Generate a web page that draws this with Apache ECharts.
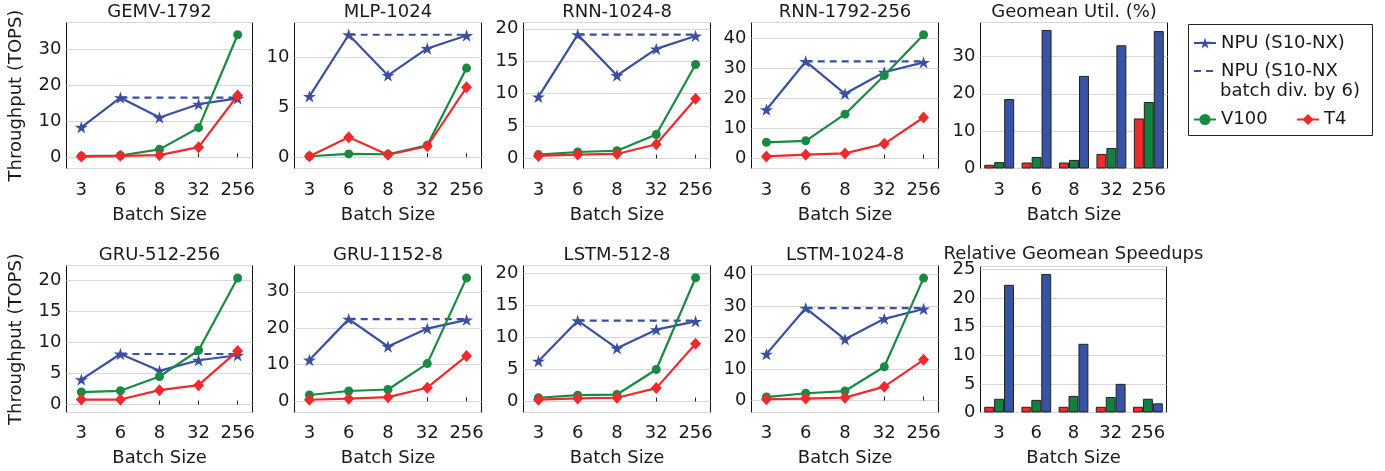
<!DOCTYPE html>
<html>
<head>
<meta charset="utf-8">
<title>Throughput vs batch size</title>
<script src="https://cdn.jsdelivr.net/npm/echarts@6.0.0/dist/echarts.min.js"></script>
<style>
  html, body { margin: 0; padding: 0; background: #fff; }
  #chart { width: 1385px; height: 471px; }
</style>
</head>
<body>
<div id="chart"></div>
<script>
// batch sizes shared by every panel
const batches = ['3', '6', '8', '32', '256']

// line panels (throughput, TOPS), in reading order
const lineTitles = ['GEMV-1792', 'MLP-1024', 'RNN-1024-8', 'RNN-1792-256',
  'GRU-512-256', 'GRU-1152-8', 'LSTM-512-8', 'LSTM-1024-8']

const npuTops = [
  [8.3, 16.5, 11.0, 14.7, 16.3],
  [6.1, 12.27, 8.2, 10.9, 12.2],
  [9.5, 19.1, 12.8, 16.9, 18.9],
  [16.3, 32.4, 21.6, 28.8, 32.1],
  [4.0, 8.1, 5.4, 7.1, 7.9],
  [11.3, 22.5, 15.0, 19.9, 22.3],
  [6.3, 12.6, 8.3, 11.2, 12.5],
  [14.7, 29.3, 19.4, 25.9, 29.0],
]
// NPU with batch divided by 6 (flat from batch 6 onwards)
const npuDiv6 = [16.5, 12.27, 19.1, 32.4, 8.1, 22.5, 12.6, 29.3]
const v100Tops = [
  [0.3, 0.5, 2.2, 8.2, 33.9],
  [0.1, 0.33, 0.3, 1.2, 8.93],
  [0.6, 1.0, 1.2, 3.7, 14.5],
  [5.4, 5.9, 14.8, 27.7, 41.3],
  [2.0, 2.2, 4.5, 8.7, 20.3],
  [1.7, 2.8, 3.2, 10.3, 33.8],
  [0.6, 1.0, 1.1, 5.0, 19.3],
  [1.1, 2.3, 3.0, 10.7, 38.8],
]
const t4Tops = [
  [0.2, 0.4, 0.6, 2.8, 17.1],
  [0.1, 2.0, 0.25, 1.1, 7.0],
  [0.4, 0.6, 0.7, 2.2, 9.2],
  [0.7, 1.3, 1.7, 4.9, 13.7],
  [0.8, 0.8, 2.3, 3.1, 8.6],
  [0.4, 0.7, 1.1, 3.7, 12.4],
  [0.3, 0.5, 0.6, 2.1, 9.0],
  [0.4, 0.6, 0.9, 4.4, 12.9],
]

// bar panels
const utilT4 = [1.0, 1.6, 1.6, 3.9, 13.4]
const utilV100 = [1.7, 3.1, 2.3, 5.5, 17.8]
const utilNpu = [18.6, 37.1, 24.8, 33.0, 36.8]
const speedT4 = [1, 1, 1, 1, 1]
const speedV100 = [2.4, 2.2, 2.9, 2.7, 2.4]
const speedNpu = [22.3, 24.2, 12.0, 5.0, 1.6]

const NPU = 'NPU (S10-NX)'
const DIV6 = 'NPU (S10-NX batch div. by 6)'

// --- layout (pixels) ---
const colLeft = [66.5, 294.5, 523.5, 751.5, 980.5]
const colWidth = [186, 187, 187, 187, 187]
const rowTop = [22.5, 265.5]
const rowHeight = [146, 147]
const titleTop = [3, 246.3]
const labelMargin = [13, 12]
const nameGap = [38, 37]
// y extents [min, max, step] of the line panels
const lineY = [[-3.1, 37.3, 10], [-1.13, 13.5, 5], [-1.54, 20.97, 5], [-3.33, 45.4, 10],
  [-1.28, 22.3, 5], [-3.1, 37.2, 10], [-1.7, 21.2, 5], [-3.8, 42.8, 10]]

const FONT = 'DejaVu Sans'
const INK = '#1a1a1a'
const BLUE = '#3a4fa2'
const GREEN = '#198a43'
const RED = '#ee2a2d'
const STAR = 'path://M0,-10L2.23,-3.07L9.51,-3.09L3.61,1.17L5.88,8.09L0,3.8L-5.88,8.09L-3.61,1.17L-9.51,-3.09L-2.23,-3.07Z'

const txt = { fontSize: 18, fontFamily: FONT, color: INK }

const grid = []
const xAxis = []
const yAxis = []
const series = []
const title = []

function addFrame(row, col, name, rect) {
  const r = Object.assign({
    left: colLeft[col], top: rowTop[row], width: colWidth[col], height: rowHeight[row],
  }, rect || {})
  grid.push({
    left: r.left, top: r.top, width: r.width, height: r.height,
    show: true,
    borderColor: '#111',
    borderWidth: 1,
    backgroundColor: 'transparent',
    containLabel: false,
    outerBoundsMode: 'none',
  })
  title.push({
    text: name,
    left: r.left + r.width / 2,
    top: titleTop[row] - (r.titleShift || 0),
    textAlign: 'center',
    padding: 0,
    textStyle: { ...txt, fontWeight: 'normal' },
  })
  return grid.length - 1
}

function yAxisFor(k, min, max, step, withName) {
  return {
    gridIndex: k,
    type: 'value',
    min, max,
    minInterval: step,
    maxInterval: step,
    axisLine: { show: false },
    axisTick: { show: false },
    splitLine: { lineStyle: { color: '#d6d6d6', width: 1 } },
    // the extent ends are not round numbers, keep only the nice ticks
    axisLabel: { ...txt, margin: 5, showMinLabel: min === 0, showMaxLabel: false },
    name: withName ? 'Throughput (TOPS)' : '',
    nameLocation: 'middle',
    nameGap: 41,
    nameTextStyle: txt,
  }
}

// line panels
lineTitles.forEach((name, i) => {
  const row = i < 4 ? 0 : 1
  const col = i % 4
  const k = addFrame(row, col, name)
  const idx = [0, 1, 2, 3, 4]
  xAxis.push({
    gridIndex: k,
    type: 'value',
    min: -0.38,
    max: 4.38,
    axisLine: { show: false },
    splitLine: { show: false },
    axisTick: { show: true, inside: true, length: 4, customValues: idx, lineStyle: { color: '#222' } },
    axisLabel: { ...txt, margin: labelMargin[row], customValues: idx, formatter: (v) => batches[v] },
    name: 'Batch Size',
    nameLocation: 'middle',
    nameGap: nameGap[row],
    nameTextStyle: txt,
  })
  const [mn, mx, st] = lineY[i]
  yAxis.push(yAxisFor(k, mn, mx, st, col === 0))

  const common = { type: 'line', xAxisIndex: k, yAxisIndex: k, animation: false }
  series.push({
    ...common, name: NPU, z: 3,
    data: npuTops[i].map((v, j) => [j, v]),
    symbol: STAR, symbolSize: 13, symbolKeepAspect: true,
    itemStyle: { color: BLUE }, lineStyle: { color: BLUE, width: 2.2 },
  })
  series.push({
    ...common, name: DIV6, z: 3,
    data: batches.map((b, j) => [j, npuDiv6[i]]).slice(1),
    symbol: 'none',
    itemStyle: { color: BLUE }, lineStyle: { color: BLUE, width: 2.2, type: [7, 5] },
  })
  series.push({
    ...common, name: 'V100', z: 4,
    data: v100Tops[i].map((v, j) => [j, v]),
    symbol: 'circle', symbolSize: 9,
    itemStyle: { color: GREEN }, lineStyle: { color: GREEN, width: 2.2 },
  })
  series.push({
    ...common, name: 'T4', z: 5,
    data: t4Tops[i].map((v, j) => [j, v]),
    symbol: 'diamond', symbolSize: [11, 12],
    itemStyle: { color: RED }, lineStyle: { color: RED, width: 2.2 },
  })
})

// bar panels
function addBars(row, name, rect, yMax, step, t4, v100, npu) {
  const k = addFrame(row, 4, name, rect)
  xAxis.push({
    gridIndex: k,
    type: 'category',
    data: batches,
    axisLine: { show: false },
    axisTick: { show: false },
    splitLine: { show: false },
    axisLabel: { ...txt, interval: 0, margin: labelMargin[row] },
    name: 'Batch Size',
    nameLocation: 'middle',
    nameGap: nameGap[row],
    nameTextStyle: txt,
  })
  yAxis.push(yAxisFor(k, 0, yMax, step, false))
  const bar = (n, data, color) => ({
    type: 'bar', name: n, xAxisIndex: k, yAxisIndex: k, data, animation: false,
    barGap: '0%', barCategoryGap: '20%',
    itemStyle: { color, borderColor: '#222', borderWidth: 1 },
  })
  series.push(bar('T4', t4, RED), bar('V100', v100, '#148040'), bar(NPU, npu, '#3953a4'))
}
addBars(0, 'Geomean Util. (%)', null, 39.1, 10, utilT4, utilV100, utilNpu)
addBars(1, 'Relative Geomean Speedups', { left: 980.5, top: 266.5, width: 186, height: 146, titleShift: 1 },
  25.5, 5, speedT4, speedV100, speedNpu)

// legend: one component per entry so each sits where the original has it
const legendBase = {
  orient: 'horizontal', itemWidth: 22, itemHeight: 14, itemGap: 0, padding: 0,
  selectedMode: false, textStyle: { ...txt, lineHeight: 22 },
}
const legend = [
  { ...legendBase, data: [NPU], left: 1193, top: 32 },
  {
    ...legendBase, left: 1193, top: 60,
    data: [{ name: DIV6, itemStyle: { opacity: 0 } }],
    formatter: () => 'NPU (S10-NX',
  },
  { ...legendBase, data: ['V100'], left: 1193, top: 108.5 },
  { ...legendBase, data: ['T4'], left: 1296, top: 108.5 },
]

const chart = echarts.init(document.getElementById('chart'), null, { renderer: 'canvas' })
chart.setOption({
  animation: false,
  backgroundColor: '#fff',
  title,
  grid,
  xAxis,
  yAxis,
  series,
  legend,
  graphic: [
    {
      type: 'rect',
      shape: { x: 1188.5, y: 24.5, width: 184, height: 111 },
      style: { fill: 'none', stroke: '#222', lineWidth: 1 },
      silent: true,
    },
    {
      // second line of the dashed-series legend entry
      type: 'text',
      left: 1220, top: 82,
      style: { text: 'batch div. by 6)', font: '18px "DejaVu Sans"', fill: INK },
      silent: true,
    },
  ],
})
</script>
</body>
</html>
